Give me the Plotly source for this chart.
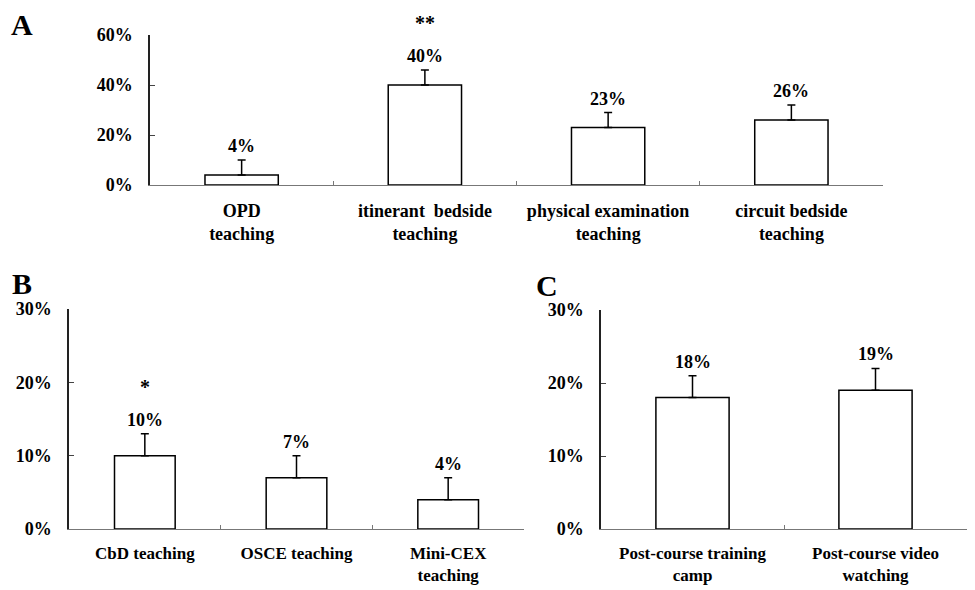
import plotly.graph_objects as go

W, H = 975, 590
OFF = 8  # page body margin offset in the screenshot

# ---- data ----
a_cats = ["OPD<br>teaching", "itinerant  bedside<br>teaching",
          "physical examination<br>teaching", "circuit bedside<br>teaching"]
a_vals = [4, 40, 23, 26]
a_err = [6, 6, 6, 6]
a_sig = ["", "**", "", ""]

b_cats = ["CbD teaching", "OSCE teaching", "Mini-CEX<br>teaching"]
b_vals = [10, 7, 4]
b_err = [3, 3, 3]
b_sig = ["*", "", ""]

c_cats = ["Post-course training<br>camp", "Post-course video<br>watching"]
c_vals = [18, 19]
c_err = [3, 3]
c_sig = ["", ""]

a_ticks = [0, 20, 40, 60]
bc_ticks = [0, 10, 20, 30]

FONT = "Liberation Serif"

def px_x(p):
    return (p - OFF) / W

def px_y(p):
    return 1 - (p - OFF) / H

fig = go.Figure()

panels = [
    ("x", "y", a_cats, a_vals, a_err, a_sig),
    ("x2", "y2", b_cats, b_vals, b_err, b_sig),
    ("x3", "y3", c_cats, c_vals, c_err, c_sig),
]

for xa, ya, cats, vals, errs, sig in panels:
    fig.add_trace(go.Bar(
        x=cats, y=vals, xaxis=xa, yaxis=ya, width=0.4,
        marker=dict(color="white", line=dict(color="black", width=1.5)),
        error_y=dict(type="data", array=errs, arrayminus=[0] * len(errs),
                     symmetric=False, color="black", thickness=1.5, width=4),
        showlegend=False, hoverinfo="skip",
    ))
    for c, v, e, s in zip(cats, vals, errs, sig):
        fig.add_annotation(x=c, y=v + e, xref=xa, yref=ya, text=f"{v}%",
                           showarrow=False, yanchor="middle", yshift=14,
                           font=dict(family=FONT, size=18, color="black", weight="bold"))
        if s:
            fig.add_annotation(x=c, y=v + e, xref=xa, yref=ya, text=s,
                               showarrow=False, yanchor="middle", yshift=47,
                               font=dict(family=FONT, size=20, color="black", weight="bold"))

tickfont = dict(family=FONT, size=18, color="black", weight="bold")

def xaxis(dom, anchor, standoff, size=18):
    return dict(domain=dom, anchor=anchor, type="category", showgrid=False,
                showline=True, linecolor="#777777", linewidth=1.2,
                ticks="inside", tickson="boundaries", ticklen=4, tickcolor="#777777",
                tickfont=dict(tickfont, size=size), zeroline=False, fixedrange=True,
                automargin=False, ticklabelstandoff=standoff)

def yaxis(dom, anchor, rng, tv):
    return dict(domain=dom, anchor=anchor, range=rng, showgrid=False,
                showline=True, linecolor="#222222", linewidth=1.5,
                ticks="inside", ticklen=5, tickcolor="#444444",
                tickvals=tv, ticktext=[f"{t}%" for t in tv],
                tickfont=tickfont, zeroline=False, fixedrange=True,
                automargin=False, ticklabelstandoff=12)

fig.update_layout(
    width=W, height=H,
    margin=dict(l=0, r=0, t=0, b=0),
    paper_bgcolor="white", plot_bgcolor="white",
    bargap=0.6,
    xaxis=xaxis([px_x(150), px_x(883)], "y", 9),
    yaxis=yaxis([px_y(185), px_y(35)], "x", [0, 60], a_ticks),
    xaxis2=xaxis([px_x(69), px_x(524)], "y2", 8, 17),
    yaxis2=yaxis([px_y(529), px_y(309)], "x2", [0, 30], bc_ticks),
    xaxis3=xaxis([px_x(601), px_x(967)], "y3", 8, 17),
    yaxis3=yaxis([px_y(529), px_y(310)], "x3", [0, 30], bc_ticks),
)

for letter, lx, ly in [("A", 22, 25), ("B", 22, 283), ("C", 547, 285)]:
    fig.add_annotation(x=px_x(lx), y=px_y(ly), xref="paper", yref="paper",
                       text=letter, showarrow=False, xanchor="center", yanchor="middle",
                       font=dict(family=FONT, size=30, color="black", weight="bold"))

fig.write_html("out.html")
